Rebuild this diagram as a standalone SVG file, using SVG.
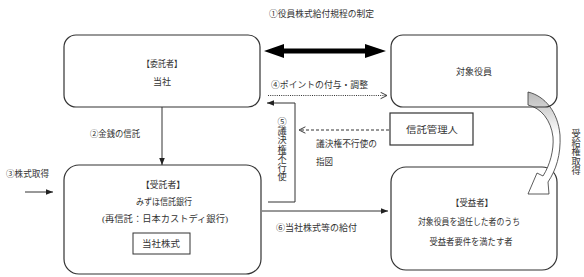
<svg xmlns="http://www.w3.org/2000/svg" width="584" height="277" viewBox="0 0 584 277">
<style>
text{font-family:"Liberation Serif","Noto Sans CJK JP",serif;font-size:9px;fill:#333;}
.c{text-anchor:middle;}
.v{font-family:"Noto Sans CJK JP",sans-serif;writing-mode:vertical-rl;text-orientation:upright;font-size:9.2px;}
.box{fill:#fff;stroke:#333;stroke-width:1.2;}
.ln{fill:none;stroke:#333;stroke-width:1;}
</style>
<defs>
<marker id="fa" viewBox="0 0 10 10" refX="10" refY="5" markerWidth="7" markerHeight="7" orient="auto" markerUnits="userSpaceOnUse">
<path d="M0,1 L10,5 L0,9 Z" fill="#222"/>
</marker>
<marker id="oa" viewBox="0 0 10 10" refX="9" refY="5" markerWidth="8" markerHeight="8" orient="auto" markerUnits="userSpaceOnUse">
<path d="M1,1 L9,5 L1,9" fill="none" stroke="#333" stroke-width="1.2"/>
</marker>
<linearGradient id="g" gradientUnits="userSpaceOnUse" x1="0" y1="91" x2="0" y2="135">
<stop offset="0" stop-color="#b8b8b8"/>
<stop offset="0.5" stop-color="#dadada"/>
<stop offset="1" stop-color="#ffffff"/>
</linearGradient>
</defs>

<text x="269" y="16.5" textLength="105" lengthAdjust="spacingAndGlyphs">①役員株式給付規程の制定</text>

<g id="itakusha">
<rect class="box" x="64" y="35" width="196" height="72" rx="12"/>
<text class="c" x="162" y="67" textLength="40" lengthAdjust="spacingAndGlyphs">【委託者】</text>
<text class="c" x="162" y="85">当社</text>
</g>

<g id="jutakusha">
<rect class="box" x="64" y="165" width="197" height="109" rx="15"/>
<text class="c" x="163" y="188" textLength="44" lengthAdjust="spacingAndGlyphs">【受託者】</text>
<text class="c" x="164" y="205" textLength="56" lengthAdjust="spacingAndGlyphs">みずほ信託銀行</text>
<text class="c" x="165" y="222" textLength="126" lengthAdjust="spacingAndGlyphs">(再信託：日本カストディ銀行)</text>
<rect x="133" y="233" width="57" height="21" fill="#fff" stroke="#333" stroke-width="1"/>
<text class="c" x="161" y="247" textLength="38" lengthAdjust="spacingAndGlyphs">当社株式</text>
</g>

<g id="jueki">
<rect class="box" x="391" y="167" width="166" height="103" rx="15"/>
<text class="c" x="472" y="205.5" textLength="42" lengthAdjust="spacingAndGlyphs">【受益者】</text>
<text class="c" x="469" y="224.5" textLength="102" lengthAdjust="spacingAndGlyphs">対象役員を退任した者のうち</text>
<text class="c" x="471" y="244.5" textLength="83" lengthAdjust="spacingAndGlyphs">受益者要件を満たす者</text>
</g>

<g id="connectors">
<polygon points="264,51 284,44 284,48.5 365,48.5 365,44 386,51 365,58 365,53.5 284,53.5 284,58" fill="#000"/>
<text x="271" y="88" textLength="97" lengthAdjust="spacingAndGlyphs">④ポイントの付与・調整</text>
<line class="ln" x1="268" y1="95.5" x2="387" y2="95.5" stroke-dasharray="1,1.2" marker-end="url(#oa)"/>

<polyline class="ln" points="268,202 295,202 295,103 267,103" marker-end="url(#fa)"/>
<text class="v" x="282" y="117">⑤議決権不行使</text>

<line class="ln" x1="389" y1="130" x2="299" y2="130" stroke-dasharray="3,2" marker-end="url(#oa)"/>
<text x="316" y="146.5" textLength="61" lengthAdjust="spacingAndGlyphs">議決権不行使の</text>
<text x="316" y="165" textLength="17" lengthAdjust="spacingAndGlyphs">指図</text>

<line class="ln" x1="162" y1="107" x2="162" y2="165" marker-end="url(#fa)"/>
<text x="90" y="137" textLength="50" lengthAdjust="spacingAndGlyphs">②金銭の信託</text>

<line class="ln" x1="25" y1="192" x2="53" y2="192" marker-end="url(#fa)"/>
<text x="6" y="177" textLength="43" lengthAdjust="spacingAndGlyphs">③株式取得</text>

<line class="ln" x1="262" y1="211" x2="388" y2="211" marker-end="url(#fa)"/>
<text x="276" y="231" textLength="81" lengthAdjust="spacingAndGlyphs">⑥当社株式等の給付</text>

<path d="M528,92 C545,96 558,112 560,135 C561,155 556,170 548,182 L549,194 L528,194 L537,173 L543,176 C550,165 554,150 553,137 C551,120 541,108 528,105 Z" fill="url(#g)" stroke="#333" stroke-width="0.8"/>
<text class="v" x="576" y="129">受給権取得</text>
</g>

<g id="taisho">
<rect x="391" y="35" width="166" height="72" rx="12" fill="none" stroke="#333" stroke-width="1.2"/>
<text class="c" x="474" y="75">対象役員</text>
</g>

<g id="shintakukanrinin">
<rect class="box" x="390" y="113" width="83" height="32"/>
<text class="c" x="432" y="133" textLength="52" lengthAdjust="spacingAndGlyphs">信託管理人</text>
</g>
</svg>
